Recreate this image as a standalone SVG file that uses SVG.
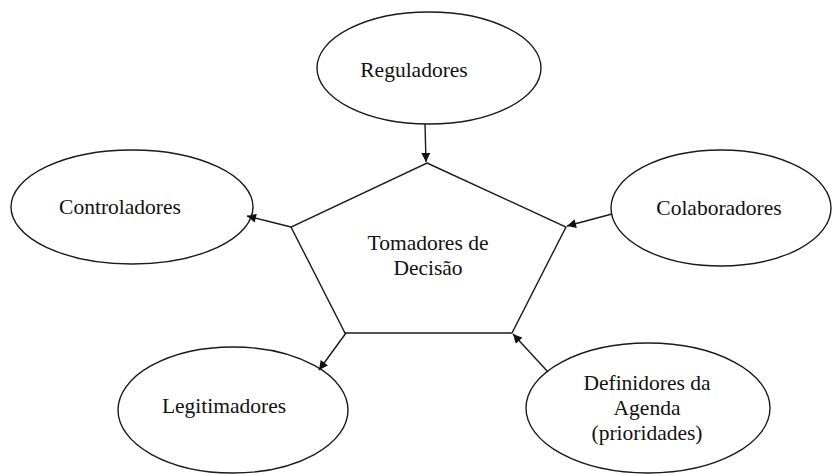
<svg xmlns="http://www.w3.org/2000/svg" width="832" height="475" viewBox="0 0 832 475">
<style>
  .shape { fill: #ffffff; stroke: #1a1a1a; stroke-width: 1.4; }
  .label { font-family: "Liberation Serif", "Times New Roman", serif; font-size: 21.5px; fill: #111111; text-anchor: middle; }
  .conn { stroke: #1a1a1a; stroke-width: 1.4; fill: none; marker-end: url(#arrow); }
</style>
<defs>
  <marker id="arrow" viewBox="0 0 10 10" refX="10" refY="5" markerWidth="10" markerHeight="9" markerUnits="userSpaceOnUse" orient="auto">
    <path d="M0,0 L10,5 L0,10 z" fill="#111111"/>
  </marker>
</defs>
<rect width="832" height="475" fill="#ffffff"/>

<g id="reguladores">
  <ellipse class="shape" cx="429" cy="68" rx="112" ry="56"/>
  <text class="label" x="414" y="77">Reguladores</text>
</g>

<g id="controladores">
  <ellipse class="shape" cx="132" cy="207" rx="121" ry="57"/>
  <text class="label" x="120" y="214">Controladores</text>
</g>

<g id="colaboradores">
  <ellipse class="shape" cx="721" cy="208" rx="110" ry="58"/>
  <text class="label" x="719" y="215">Colaboradores</text>
</g>

<g id="legitimadores">
  <ellipse class="shape" cx="233" cy="410" rx="115" ry="63"/>
  <text class="label" x="224" y="413">Legitimadores</text>
</g>

<g id="definidores">
  <ellipse class="shape" cx="648" cy="408" rx="122" ry="65"/>
  <text class="label" x="647" y="390">Definidores da</text>
  <text class="label" x="647" y="415">Agenda</text>
  <text class="label" x="647" y="440">(prioridades)</text>
</g>

<g id="tomadores">
  <polygon class="shape" points="427,163 566,227 512,333 345,333 291,227"/>
  <text class="label" x="428" y="250">Tomadores de</text>
  <text class="label" x="428" y="275">Decisão</text>
</g>

<g id="connectors">
  <line class="conn" x1="425" y1="124" x2="426" y2="162"/>
  <line class="conn" x1="291" y1="227" x2="247" y2="216"/>
  <line class="conn" x1="612" y1="214" x2="567" y2="226"/>
  <line class="conn" x1="346" y1="333" x2="319" y2="370"/>
  <line class="conn" x1="548" y1="372" x2="513" y2="334"/>
</g>
</svg>
